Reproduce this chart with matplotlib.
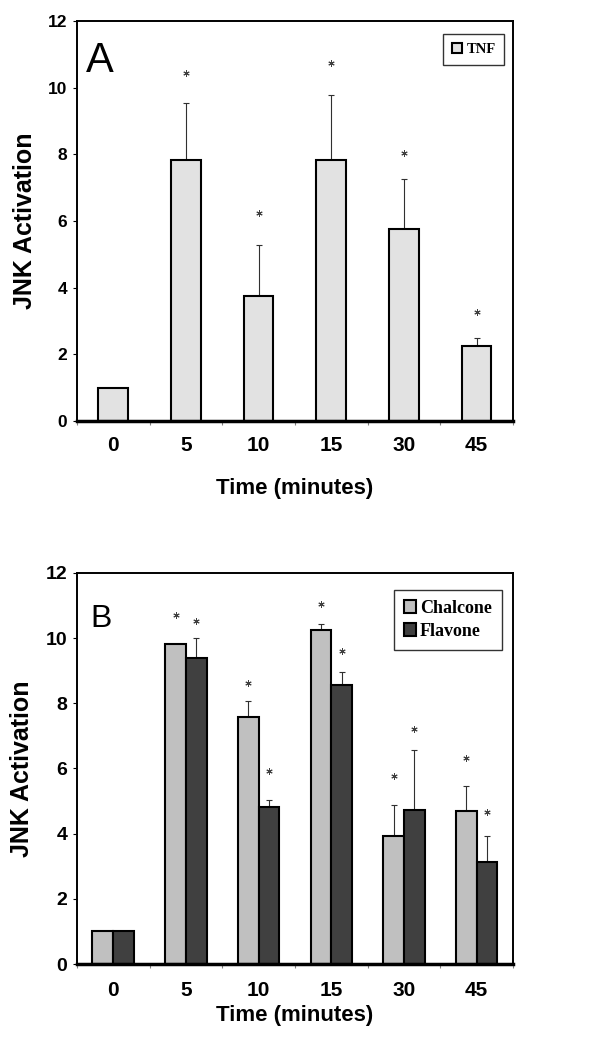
import numpy as np
import matplotlib.pyplot as plt

plt.rcParams['font.family'] = ['Liberation Sans', 'DejaVu Sans']

# time points (minutes)
times = ['0', '5', '10', '15', '30', '45']

# panel A: TNF
tnf = [1.0, 7.83, 3.75, 7.83, 5.77, 2.25]
tnf_err = [0.0, 1.71, 1.53, 1.95, 1.50, 0.24]
tnf_star = [np.nan, 10.45, 6.24, 10.75, 8.04, 3.27]

# panel B: chalcone / flavone
chalcone = [1.0, 9.83, 7.58, 10.26, 3.92, 4.69]
chalcone_err = [0.0, 0.0, 0.50, 0.17, 0.95, 0.76]
chalcone_star = [np.nan, 10.72, 8.62, 11.05, 5.76, 6.31]
flavone = [1.0, 9.39, 4.81, 8.57, 4.74, 3.12]
flavone_err = [0.0, 0.61, 0.23, 0.39, 1.84, 0.80]
flavone_star = [np.nan, 10.52, 5.91, 9.62, 7.22, 4.66]

x = np.arange(len(times)) + 0.5


def draw_err(ax, xs, vals, errs):
    xs = np.asarray(xs); vals = np.asarray(vals); errs = np.asarray(errs)
    m = errs > 0
    ax.errorbar(xs[m], vals[m], yerr=[np.zeros(m.sum()), errs[m]], fmt='none',
                ecolor='#303030', elinewidth=0.8, capsize=2.5, capthick=0.8, zorder=1)


def draw_stars(ax, xs, ys):
    ax.plot(xs, ys, ls='none', marker=(6, 2, 0), ms=4.5, mew=0.7, color='#404040')


def style(ax, panel, ysize, xsize, xpad, xlabpad, letter_size, letter_pos):
    ax.set_xlim(0, 6)
    ax.set_ylim(0, 12)
    ax.set_yticks(range(0, 13, 2))
    ax.set_xticks(range(0, 7))
    ax.set_xticklabels([])
    ax.set_xticks(x, minor=True)
    ax.set_xticklabels(times, minor=True, fontsize=xsize, fontweight='bold')
    ax.tick_params(axis='x', which='minor', length=0, pad=xpad)
    ax.tick_params(axis='x', which='major', length=3, width=0.8, direction='out', color='#808080')
    ax.tick_params(axis='y', length=3, width=0.8, direction='out', labelsize=ysize, pad=4)
    for lab in ax.get_yticklabels():
        lab.set_fontweight('bold')
    for s in ['left', 'top', 'right']:
        ax.spines[s].set_linewidth(1.4)
    ax.spines['bottom'].set_linewidth(2.5)
    ax.set_ylabel('JNK Activation', fontsize=18, fontweight='bold', labelpad=8)
    ax.set_xlabel('Time (minutes)', fontsize=16, fontweight='bold', labelpad=xlabpad)
    ax.text(letter_pos[0], letter_pos[1], panel, transform=ax.transAxes,
            fontsize=letter_size, ha='left', va='top')


fig = plt.figure(figsize=(6.15, 10.5), dpi=100)

# ---- panel A
axA = fig.add_axes([0.125, 0.599, 0.709, 0.381])
axA.bar(x, tnf, width=0.41, color='#e2e2e2', edgecolor='black', linewidth=1.5,
        label='TNF', zorder=2)
draw_err(axA, x, tnf, tnf_err)
draw_stars(axA, x, tnf_star)
style(axA, 'A', 12.5, 15, 11, 16, 30, (0.02, 0.95))
legA = axA.legend(loc='upper right', bbox_to_anchor=(0.997, 0.985), frameon=True,
                  fancybox=False, edgecolor='black', handlelength=0.7, handleheight=0.7,
                  handletextpad=0.3, borderpad=0.6,
                  prop={'family': 'Liberation Serif', 'weight': 'bold', 'size': 10.5})
legA.get_frame().set_linewidth(1.0)

# ---- panel B
axB = fig.add_axes([0.125, 0.0819, 0.709, 0.3724])
w = 0.285
axB.bar(x - w / 2, chalcone, width=w, color='#c0c0c0', edgecolor='black', linewidth=1.5,
        label='Chalcone', zorder=2)
axB.bar(x + w / 2, flavone, width=w, color='#404040', edgecolor='black', linewidth=1.5,
        label='Flavone', zorder=2)
draw_err(axB, x - w / 2, chalcone, chalcone_err)
draw_err(axB, x + w / 2, flavone, flavone_err)
draw_stars(axB, x - w / 2, chalcone_star)
draw_stars(axB, x + w / 2, flavone_star)
style(axB, 'B', 14, 15, 12, 4, 23, (0.03, 0.92))
legB = axB.legend(loc='upper right', bbox_to_anchor=(0.995, 0.98), frameon=True,
                  fancybox=False, edgecolor='black', handlelength=0.7, handleheight=0.7,
                  handletextpad=0.2, borderpad=0.55, labelspacing=0.35,
                  prop={'family': 'Liberation Serif', 'weight': 'bold', 'size': 13})
legB.get_frame().set_linewidth(1.0)

fig.savefig('out.png', dpi=100)
